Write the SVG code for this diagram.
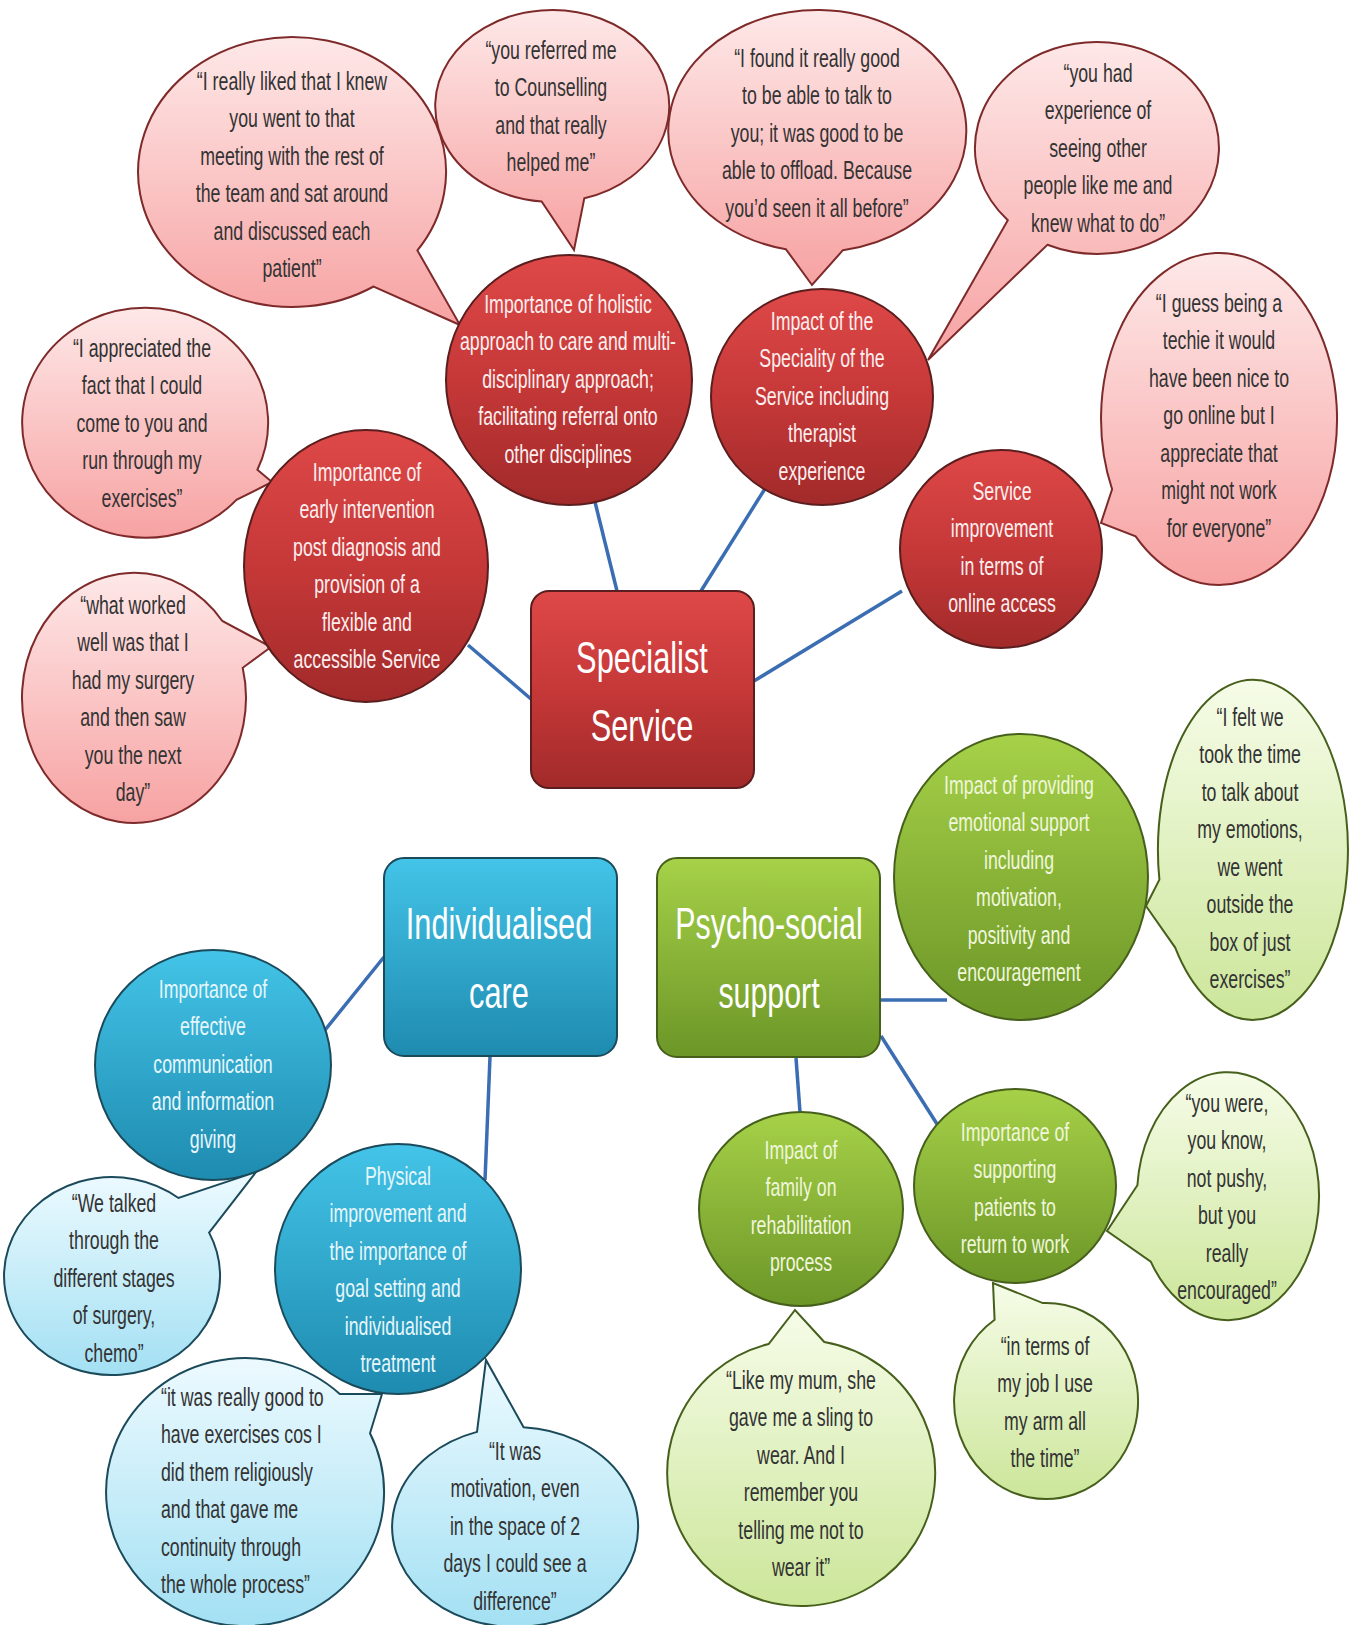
<svg xmlns="http://www.w3.org/2000/svg" width="1358" height="1625" viewBox="0 0 1358 1625">
<defs>
<linearGradient id="gRed" x1="0" y1="0" x2="0" y2="1"><stop offset="0" stop-color="#de4848"/><stop offset="0.5" stop-color="#c63838"/><stop offset="1" stop-color="#a22a2a"/></linearGradient>
<linearGradient id="gPink" x1="0" y1="0" x2="0" y2="1"><stop offset="0" stop-color="#fee8e8"/><stop offset="1" stop-color="#f7a2a2"/></linearGradient>
<linearGradient id="gBlue" x1="0" y1="0" x2="0" y2="1"><stop offset="0" stop-color="#43c4e8"/><stop offset="1" stop-color="#1e8baf"/></linearGradient>
<linearGradient id="gLBlue" x1="0" y1="0" x2="0" y2="1"><stop offset="0" stop-color="#edfaff"/><stop offset="1" stop-color="#a3e0f3"/></linearGradient>
<linearGradient id="gGreen" x1="0" y1="0" x2="0" y2="1"><stop offset="0" stop-color="#a6d148"/><stop offset="1" stop-color="#6c9627"/></linearGradient>
<linearGradient id="gLGreen" x1="0" y1="0" x2="0" y2="1"><stop offset="0" stop-color="#f6fce8"/><stop offset="1" stop-color="#cce69a"/></linearGradient>
</defs>
<style>
.rn{fill:url(#gRed);stroke:#5a1e1e;stroke-width:2}
.pb{fill:url(#gPink);stroke:#7e2a2a;stroke-width:2}
.bn{fill:url(#gBlue);stroke:#1b4a5a;stroke-width:2}
.lb{fill:url(#gLBlue);stroke:#1b4a5a;stroke-width:2}
.gn{fill:url(#gGreen);stroke:#46601c;stroke-width:2}
.lg{fill:url(#gLGreen);stroke:#46601c;stroke-width:2}
text{font-family:"Liberation Sans",Arial,sans-serif;font-size:25px;text-anchor:middle}
.q{fill:#333333}
.w{fill:#fbeeee}
.wb{fill:#e6f6fb}
.wg{fill:#eff6dc}
.big{font-size:44px;fill:#ffffff}
.conn line{stroke:#3b6db3;stroke-width:3.5}
</style>

<g id="connectors" class="conn">
<line x1="595" y1="502" x2="617" y2="591"/>
<line x1="701" y1="591" x2="766" y2="487"/>
<line x1="468" y1="645" x2="531" y2="699"/>
<line x1="754" y1="681" x2="902" y2="591"/>
<line x1="321" y1="1035" x2="384" y2="957"/>
<line x1="490" y1="1057" x2="485" y2="1180"/>
<line x1="881" y1="1000" x2="947" y2="1000"/>
<line x1="796" y1="1058" x2="800" y2="1112"/>
<line x1="881" y1="1036" x2="937" y2="1124"/>
</g>

<!-- Red group -->
<g id="q-meeting">
<path class="pb" d="M373.6,286.5 A154,135 0 1 1 417.4,250.4 L460,325 Z"/>
<text class="q" transform="translate(292 0) scale(0.71 1)"><tspan x="0" y="90">“I really liked that I knew</tspan><tspan x="0" y="127.5">you went to that</tspan><tspan x="0" y="165">meeting with the rest of</tspan><tspan x="0" y="202.5">the team and sat around</tspan><tspan x="0" y="240">and discussed each</tspan><tspan x="0" y="277.5">patient”</tspan></text>
</g>
<g id="q-counselling">
<path class="pb" d="M584.3,198.3 A117,96 0 1 0 541.8,201.6 L574,250 Z" />
<text class="q" transform="translate(551 0) scale(0.71 1)"><tspan x="0" y="59">“you referred me</tspan><tspan x="0" y="96.5">to Counselling</tspan><tspan x="0" y="134">and that really</tspan><tspan x="0" y="171.5">helped me”</tspan></text>
</g>
<g id="q-offload">
<path class="pb" d="M786,249.3 A149,121 0 1 1 842.9,250.2 L812,285 Z"/>
<text class="q" transform="translate(817 0) scale(0.71 1)"><tspan x="0" y="67">“I found it really good</tspan><tspan x="0" y="104.5">to be able to talk to</tspan><tspan x="0" y="142">you; it was good to be</tspan><tspan x="0" y="179.5">able to offload. Because</tspan><tspan x="0" y="217">you’d seen it all before”</tspan></text>
</g>
<g id="q-experience">
<path class="pb" d="M1007.8,220.3 A122,106 0 1 1 1047.4,244.8 L928,360 Z"/>
<text class="q" transform="translate(1098 0) scale(0.71 1)"><tspan x="0" y="82">“you had</tspan><tspan x="0" y="119.5">experience of</tspan><tspan x="0" y="157">seeing other</tspan><tspan x="0" y="194.5">people like me and</tspan><tspan x="0" y="232">knew what to do”</tspan></text>
</g>
<g id="q-techie">
<path class="pb" d="M1112.1,489.2 A118,166 0 1 1 1135.6,536.4 L1101,523 Z"/>
<text class="q" transform="translate(1219 0) scale(0.71 1)"><tspan x="0" y="312">“I guess being a</tspan><tspan x="0" y="349.5">techie it would</tspan><tspan x="0" y="387">have been nice to</tspan><tspan x="0" y="424.5">go online but I</tspan><tspan x="0" y="462">appreciate that</tspan><tspan x="0" y="499.5">might not work</tspan><tspan x="0" y="537">for everyone”</tspan></text>
</g>
<g id="q-appreciated">
<path class="pb" d="M236.4,499.9 A123,115 0 1 1 257.4,469.8 L272,482 Z"/>
<text class="q" transform="translate(142 0) scale(0.71 1)"><tspan x="0" y="357">“I appreciated the</tspan><tspan x="0" y="394.5">fact that I could</tspan><tspan x="0" y="432">come to you and</tspan><tspan x="0" y="469.5">run through my</tspan><tspan x="0" y="507">exercises”</tspan></text>
</g>
<g id="q-surgery">
<path class="pb" d="M242.7,667.8 A112,125 0 1 1 222.3,621 L271,647 Z"/>
<text class="q" transform="translate(133 0) scale(0.71 1)"><tspan x="0" y="614">“what worked</tspan><tspan x="0" y="651.5">well was that I</tspan><tspan x="0" y="689">had my surgery</tspan><tspan x="0" y="726.5">and then saw</tspan><tspan x="0" y="764">you the next</tspan><tspan x="0" y="801.5">day”</tspan></text>
</g>

<g id="n-holistic">
<ellipse class="rn" cx="569" cy="380" rx="123" ry="125"/>
<text class="w" transform="translate(568 0) scale(0.71 1)"><tspan x="0" y="313">Importance of holistic</tspan><tspan x="0" y="350.5">approach to care and multi-</tspan><tspan x="0" y="388">disciplinary approach;</tspan><tspan x="0" y="425.5">facilitating referral onto</tspan><tspan x="0" y="463">other disciplines</tspan></text>
</g>
<g id="n-speciality">
<ellipse class="rn" cx="822" cy="397" rx="111" ry="108"/>
<text class="w" transform="translate(822 0) scale(0.71 1)"><tspan x="0" y="330">Impact of the</tspan><tspan x="0" y="367.5">Speciality of the</tspan><tspan x="0" y="405">Service including</tspan><tspan x="0" y="442.5">therapist</tspan><tspan x="0" y="480">experience</tspan></text>
</g>
<g id="n-early">
<ellipse class="rn" cx="366" cy="566" rx="122" ry="136"/>
<text class="w" transform="translate(367 0) scale(0.71 1)"><tspan x="0" y="481">Importance of</tspan><tspan x="0" y="518.5">early intervention</tspan><tspan x="0" y="556">post diagnosis  and</tspan><tspan x="0" y="593.5">provision of a</tspan><tspan x="0" y="631">flexible and</tspan><tspan x="0" y="668.5">accessible Service</tspan></text>
</g>
<g id="n-online">
<ellipse class="rn" cx="1001" cy="549" rx="101" ry="99"/>
<text class="w" transform="translate(1002 0) scale(0.71 1)"><tspan x="0" y="500">Service</tspan><tspan x="0" y="537.5">improvement</tspan><tspan x="0" y="575">in terms of</tspan><tspan x="0" y="612.5">online access</tspan></text>
</g>
<g id="n-specialist">
<rect class="rn" x="531" y="591" width="223" height="197" rx="18"/>
<text class="big" transform="translate(642 0) scale(0.7 1)"><tspan x="0" y="673">Specialist</tspan><tspan x="0" y="741">Service</tspan></text>
</g>

<!-- Blue group -->
<g id="n-individualised">
<rect class="bn" x="384" y="858" width="233" height="198" rx="20"/>
<text class="big" transform="translate(499 0) scale(0.7 1)"><tspan x="0" y="939">Individualised</tspan><tspan x="0" y="1008">care</tspan></text>
</g>
<g id="n-communication">
<ellipse class="bn" cx="213" cy="1065" rx="118" ry="115"/>
<text class="wb" transform="translate(213 0) scale(0.71 1)"><tspan x="0" y="998">Importance of</tspan><tspan x="0" y="1035.5">effective</tspan><tspan x="0" y="1073">communication</tspan><tspan x="0" y="1110.5">and information</tspan><tspan x="0" y="1148">giving</tspan></text>
</g>
<g id="q-stages">
<path class="lb" d="M209.1,1232.6 A108,99 0 1 1 178.5,1198 L256,1172 Z"/>
<text class="q" transform="translate(114 0) scale(0.71 1)"><tspan x="0" y="1212">“We talked</tspan><tspan x="0" y="1249.5">through the</tspan><tspan x="0" y="1287">different stages</tspan><tspan x="0" y="1324.5">of surgery,</tspan><tspan x="0" y="1362">chemo”</tspan></text>
</g>
<g id="q-religiously">
<path class="lb" d="M370,1433.3 A139,134 0 1 1 339.8,1394 L382,1394 Z"/>
<text class="q" style="text-anchor:start" transform="translate(161 0) scale(0.71 1)"><tspan x="0" y="1406">“it was really good to</tspan><tspan x="0" y="1443.5">have exercises cos I</tspan><tspan x="0" y="1481">did them religiously</tspan><tspan x="0" y="1518.5">and that gave me</tspan><tspan x="0" y="1556">continuity through</tspan><tspan x="0" y="1593.5">the whole process”</tspan></text>
</g>
<g id="q-motivation">
<path class="lb" d="M523.6,1427.2 A123,100 0 1 1 477,1431.9 L486,1360 Z"/>
<text class="q" transform="translate(515 0) scale(0.71 1)"><tspan x="0" y="1460">“It was</tspan><tspan x="0" y="1497.5">motivation, even</tspan><tspan x="0" y="1535">in the space of 2</tspan><tspan x="0" y="1572.5">days I could see a</tspan><tspan x="0" y="1610">difference”</tspan></text>
</g>
<g id="n-physical">
<ellipse class="bn" cx="398" cy="1269" rx="123" ry="125"/>
<text class="wb" transform="translate(398 0) scale(0.71 1)"><tspan x="0" y="1185">Physical</tspan><tspan x="0" y="1222.5">improvement and</tspan><tspan x="0" y="1260">the importance of</tspan><tspan x="0" y="1297.5">goal setting and</tspan><tspan x="0" y="1335">individualised</tspan><tspan x="0" y="1372.5">treatment</tspan></text>
</g>

<!-- Green group -->
<g id="n-psychosocial">
<rect class="gn" x="657" y="858" width="223" height="199" rx="20"/>
<text class="big" transform="translate(769 0) scale(0.69 1)"><tspan x="0" y="939">Psycho-social</tspan><tspan x="0" y="1008">support</tspan></text>
</g>
<g id="q-emotions">
<path class="lg" d="M1159.4,879.6 A95,170 0 1 1 1175.2,947.6 L1146,906 Z"/>
<text class="q" transform="translate(1250 0) scale(0.71 1)"><tspan x="0" y="726">“I felt we</tspan><tspan x="0" y="763.5">took the time</tspan><tspan x="0" y="801">to talk about</tspan><tspan x="0" y="838.5">my emotions,</tspan><tspan x="0" y="876">we went</tspan><tspan x="0" y="913.5">outside the</tspan><tspan x="0" y="951">box of just</tspan><tspan x="0" y="988.5">exercises”</tspan></text>
</g>
<g id="n-emotional">
<ellipse class="gn" cx="1021" cy="877" rx="127" ry="143"/>
<text class="wg" transform="translate(1019 0) scale(0.71 1)"><tspan x="0" y="794">Impact of providing</tspan><tspan x="0" y="831.5">emotional support</tspan><tspan x="0" y="869">including</tspan><tspan x="0" y="906.5">motivation,</tspan><tspan x="0" y="944">positivity and</tspan><tspan x="0" y="981.5">encouragement</tspan></text>
</g>
<g id="q-pushy">
<path class="lg" d="M1137.4,1185.2 A91,124 0 1 1 1150.8,1261.7 L1107,1231 Z"/>
<text class="q" transform="translate(1227 0) scale(0.71 1)"><tspan x="0" y="1112">“you were,</tspan><tspan x="0" y="1149.5">you know,</tspan><tspan x="0" y="1187">not pushy,</tspan><tspan x="0" y="1224.5">but you</tspan><tspan x="0" y="1262">really</tspan><tspan x="0" y="1299.5">encouraged”</tspan></text>
</g>
<g id="q-job">
<path class="lg" d="M1042.8,1303.1 A92,98 0 1 1 994.6,1319.8 L993,1283 Z"/>
<text class="q" transform="translate(1045 0) scale(0.71 1)"><tspan x="0" y="1355">“in terms of</tspan><tspan x="0" y="1392.5">my job I use</tspan><tspan x="0" y="1430">my arm all</tspan><tspan x="0" y="1467.5">the time”</tspan></text>
</g>
<g id="q-sling">
<path class="lg" d="M824.3,1342 A134,133 0 1 1 768.6,1344 L795,1310 Z"/>
<text class="q" transform="translate(801 0) scale(0.71 1)"><tspan x="0" y="1389">“Like my mum, she</tspan><tspan x="0" y="1426.5">gave me a sling to</tspan><tspan x="0" y="1464">wear. And I</tspan><tspan x="0" y="1501.5">remember you</tspan><tspan x="0" y="1539">telling me not to</tspan><tspan x="0" y="1576.5">wear it”</tspan></text>
</g>
<g id="n-family">
<ellipse class="gn" cx="801" cy="1209" rx="102" ry="97"/>
<text class="wg" transform="translate(801 0) scale(0.71 1)"><tspan x="0" y="1159">Impact of</tspan><tspan x="0" y="1196.5">family on</tspan><tspan x="0" y="1234">rehabilitation</tspan><tspan x="0" y="1271.5">process</tspan></text>
</g>
<g id="n-work">
<ellipse class="gn" cx="1015" cy="1186" rx="101" ry="97"/>
<text class="wg" transform="translate(1015 0) scale(0.71 1)"><tspan x="0" y="1141">Importance of</tspan><tspan x="0" y="1178.5">supporting</tspan><tspan x="0" y="1216">patients to</tspan><tspan x="0" y="1253.5">return to work</tspan></text>
</g>
</svg>
